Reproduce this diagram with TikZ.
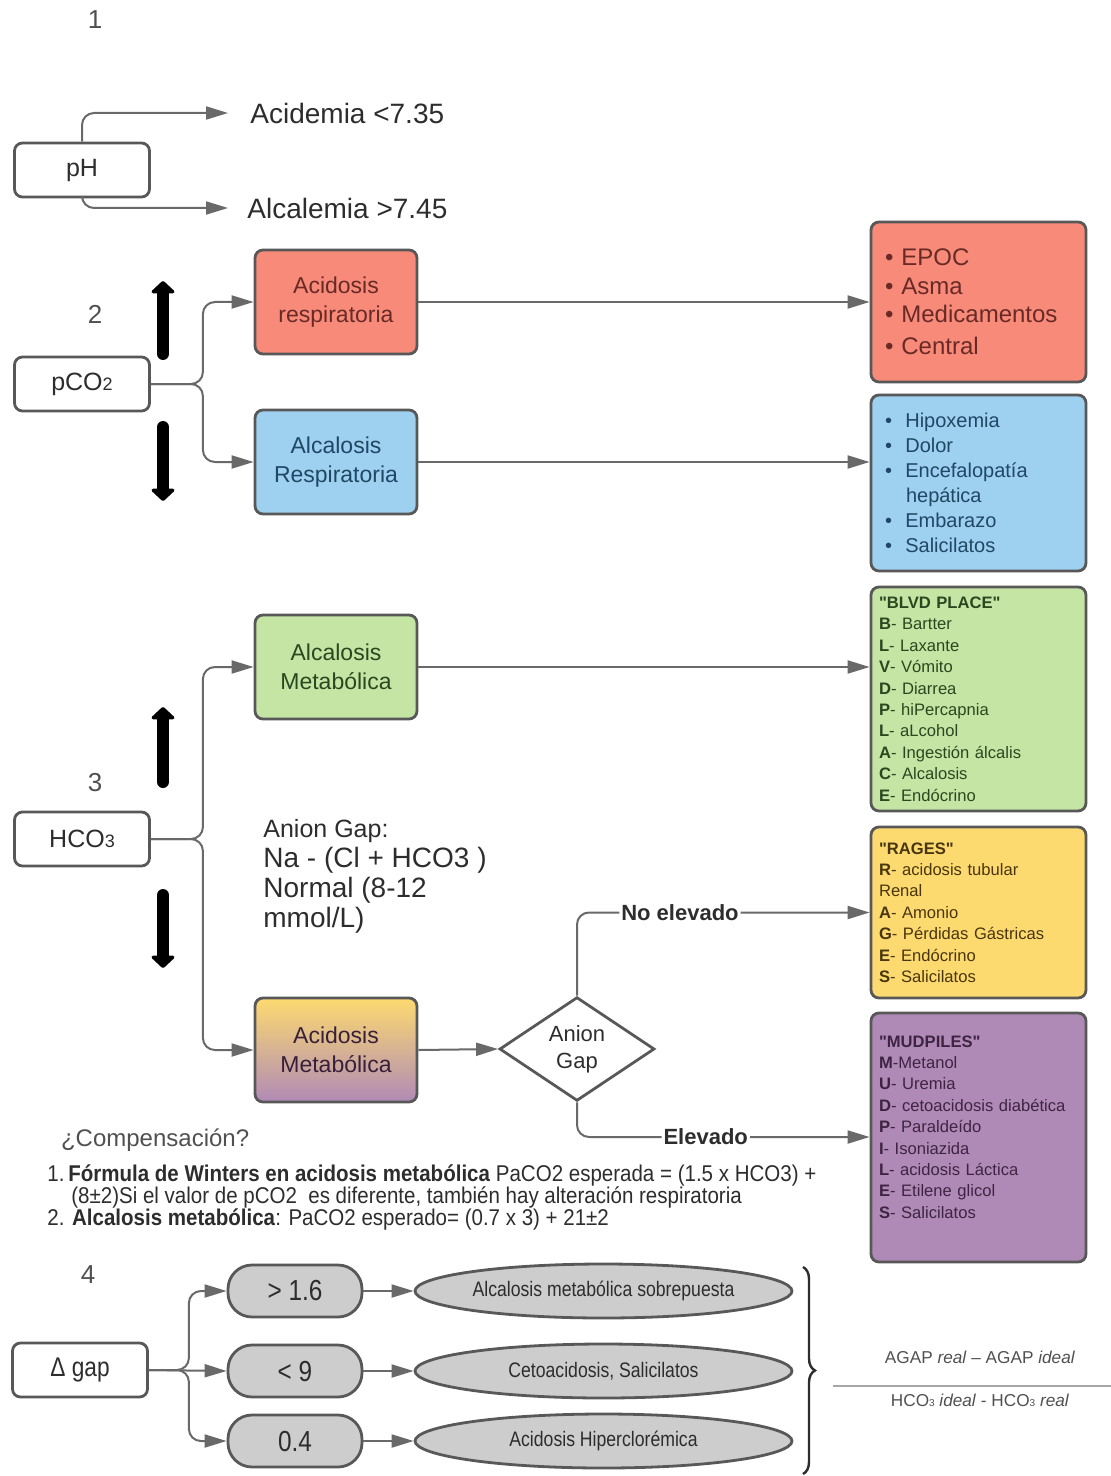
\documentclass[tikz,border=0pt]{standalone}
\usepackage{fontspec}
\setmainfont{Liberation Sans}[Ligatures=TeXOff]
\newfontfamily\narrowfont[FakeStretch=0.84]{Liberation Sans}
\newfontfamily\notefont[FakeStretch=0.9]{Liberation Sans}
\usetikzlibrary{arrows.meta, shapes.geometric, positioning, decorations.pathreplacing}

\definecolor{boxline}{RGB}{88,88,88}
\definecolor{linkgray}{RGB}{105,105,105}
\definecolor{txtdark}{RGB}{45,45,45}
\definecolor{txtgray}{RGB}{80,80,80}
\definecolor{resred}{RGB}{248,138,122}
\definecolor{resblue}{RGB}{158,208,240}
\definecolor{metgreen}{RGB}{197,229,165}
\definecolor{metyellow}{RGB}{253,218,112}
\definecolor{metpurple}{RGB}{176,138,182}
\definecolor{pillgray}{RGB}{205,205,205}
\definecolor{redtxt}{RGB}{105,42,38}
\definecolor{bluetxt}{RGB}{32,72,100}
\definecolor{greentxt}{RGB}{42,72,32}
\definecolor{yellowtxt}{RGB}{72,54,14}
\definecolor{purpletxt}{RGB}{62,36,66}

\newcommand{\fsz}[2]{\fontsize{#1}{#2}\selectfont}

\begin{document}
\begin{tikzpicture}[x=0.5pt, y=-0.5pt,
  param/.style={draw=boxline, line width=1.4pt, rounded corners=4pt, fill=white, minimum width=67.5pt, minimum height=27pt, text=txtdark, font=\fsz{12.5}{15}},
  kind/.style={draw=boxline, line width=1.4pt, rounded corners=4pt, minimum width=81pt, minimum height=52pt, align=center, font=\fsz{11.5}{14.5}},
  causes/.style={draw=boxline, line width=1.4pt, rounded corners=4pt, align=left, inner xsep=4pt, text width=99.5pt, font=\fsz{8.3}{10.7}},
  bullets/.style={causes, inner xsep=7pt, text width=93.5pt},
  link/.style={draw=linkgray, line width=1pt, rounded corners=6pt, -{Triangle[length=11pt,width=6.5pt]}},
  updown/.style={line width=6pt, black, line cap=round, -{Triangle[length=6.5pt,width=13.5pt,round]}},
  number/.style={text=txtgray, font=\fsz{13}{15}},
  reading/.style={anchor=west, text=txtdark, font=\fsz{14}{16}},
  pill/.style={draw=boxline, line width=1.4pt, rounded corners=12pt, fill=pillgray, minimum width=67pt, minimum height=26pt, text=txtdark, font=\narrowfont\fsz{14.5}{16}},
  oval/.style={ellipse, draw=boxline, line width=1.4pt, fill=pillgray, inner sep=0pt, minimum width=188.5pt, minimum height=27pt, text=txtdark, font=\narrowfont\fsz{10.5}{12}}
  ]
  \useasboundingbox (0,0) rectangle (1111,1476);

  % 1 pH
  \node[number] (n1) at (95,20) {1};
  \node[param] (ph) at (82,170) {pH};
  \node[reading, inner xsep=11pt] (acidemia) at (228,113) {Acidemia <7.35};
  \node[reading, inner xsep=9.5pt] (alcalemia) at (228,208) {Alcalemia >7.45};
  \draw[link] (ph.north) |- (acidemia.west);
  \draw[link] (ph.south) |- (alcalemia.west);

  % 2 pCO2
  \node[number] (n2) at (95,314) {2};
  \node[param] (pco2) at (82,384) {pCO{\small 2}};
  \draw[updown] (163,354) -- (163,281);
  \draw[updown] (163,427) -- (163,501);
  \node[kind, fill=resred, text=redtxt] (acres) at (336,302) {Acidosis\\respiratoria};
  \node[kind, fill=resblue, text=bluetxt] (alres) at (336,462) {Alcalosis\\Respiratoria};
  \node[bullets, fill=resred, text=redtxt, minimum height=80pt, font=\fsz{12}{14.2}] (redlist) at (978.5,302)
    {\textbullet\ EPOC\\ \textbullet\ Asma\\ \textbullet\ Medicamentos\\[2pt] \textbullet\ Central};
  \node[bullets, fill=resblue, text=bluetxt, minimum height=88pt, font=\fsz{10}{12.5}] (bluelist) at (978.5,483)
    {\textbullet\ \ Hipoxemia\\ \textbullet\ \ Dolor\\ \textbullet\ \ Encefalopatía\\ \hspace*{1.05em}hepática\\ \textbullet\ \ Embarazo\\ \textbullet\ \ Salicilatos};
  \draw[link] (pco2.east) -- ++(52,0) |- (acres.west);
  \draw[link] (pco2.east) -- ++(52,0) |- (alres.west);
  \draw[link] (acres.east) -- (acres.east -| redlist.west);
  \draw[link] (alres.east) -- (alres.east -| bluelist.west);

  % 3 HCO3
  \node[number] (n3) at (95,783) {3};
  \node[param] (hco3) at (82,839) {HCO{\small 3}};
  \draw[updown] (163,782) -- (163,707);
  \draw[updown] (163,895) -- (163,968);
  \node[kind, fill=metgreen, text=greentxt] (almet) at (336,667) {Alcalosis\\Metabólica};
  \node[kind, top color=metyellow, bottom color=metpurple, text=purpletxt!90!black] (acmet) at (336,1050) {Acidosis\\Metabólica};
  \node[anchor=north west, align=left, inner sep=0pt, text=txtdark, font=\fsz{14}{15}] (agap) at (263,819)
    {{\fsz{12.5}{15}Anion Gap:}\\ Na - (Cl + HCO3 )\\ Normal (8-12\\ mmol/L)};
  \node[diamond, draw=boxline, line width=1.4pt, fill=white, minimum width=77.5pt, minimum height=49pt, inner sep=0pt, align=center, text=txtdark, font=\fsz{11}{13.5}] (gap) at (577,1049) {Anion\\Gap};
  \node[causes, fill=metgreen, text=greentxt, minimum height=112pt] (greenlist) at (978.5,699)
    {\textbf{"BLVD PLACE"}\\ \textbf{B}- Bartter\\ \textbf{L}- Laxante\\ \textbf{V}- Vómito\\ \textbf{D}- Diarrea\\ \textbf{P}- hiPercapnia\\ \textbf{L}- aLcohol\\ \textbf{A}- Ingestión álcalis\\ \textbf{C}- Alcalosis\\ \textbf{E}- Endócrino};
  \node[causes, fill=metyellow, text=yellowtxt, minimum height=85.5pt] (yellowlist) at (978.5,912.5)
    {\textbf{"RAGES"}\\ \textbf{R}- acidosis tubular\\ Renal\\ \textbf{A}- Amonio\\ \textbf{G}- Pérdidas Gástricas\\ \textbf{E}- Endócrino\\ \textbf{S}- Salicilatos};
  \node[causes, fill=metpurple, text=purpletxt, minimum height=124.5pt] (purplelist) at (978.5,1137.5)
    {\textbf{"MUDPILES"}\\ \textbf{M}-Metanol\\ \textbf{U}- Uremia\\ \mbox{\textbf{D}- cetoacidosis diabética}\\ \textbf{P}- Paraldeído\\ \textbf{I}- Isoniazida\\ \textbf{L}- acidosis Láctica\\ \textbf{E}- Etilene glicol\\ \textbf{S}- Salicilatos\\ \mbox{}};
  \draw[link] (hco3.east) -- ++(52,0) |- (almet.west);
  \draw[link] (hco3.east) -- ++(52,0) |- (acmet.west);
  \draw[link] (almet.east) -- (almet.east -| greenlist.west);
  \draw[link] (acmet.east) -- (gap.west);
  \draw[link] (gap.north) |- node[pos=0.676, fill=white, inner sep=1pt, text=txtdark, font=\bfseries\fsz{11}{13}] (noelev) {No elevado} (yellowlist.west);
  \draw[link] (gap.south) |- node[pos=0.72, fill=white, inner sep=1pt, text=txtdark, font=\bfseries\fsz{11}{13}] (elev) {Elevado} (purplelist.west |- 0,1137);

  % compensacion
  \node[anchor=west, text=txtgray, font=\fsz{12}{14}] (comp) at (54,1140) {¿Compensación?};
  \node[anchor=north west, align=left, inner sep=0pt, text=txtdark, font=\notefont\fsz{11.4}{11.2}] (winters) at (47,1164)
    {1.\,\textbf{Fórmula de Winters en acidosis metabólica} PaCO2 esperada = (1.5 x HCO3) +\\
     \hspace*{1.05em}(8±2)Si el valor de pCO2\ \ es diferente, también hay alteración respiratoria\\
     2. \textbf{Alcalosis metabólica}: PaCO2 esperado= (0.7 x 3) + 21±2};

  % 4 delta gap
  \node[number] (n4) at (88,1275) {4};
  \node[param, font=\narrowfont\fsz{13.5}{15}] (dgap) at (80,1370) {Δ gap};
  \node[pill] (p1) at (295,1291) {> 1.6};
  \node[pill] (p2) at (295,1371) {< 9};
  \node[pill] (p3) at (295,1441) {0.4};
  \node[oval] (o1) at (603.5,1291) {Alcalosis metabólica sobrepuesta};
  \node[oval] (o2) at (603.5,1371) {Cetoacidosis, Salicilatos};
  \node[oval] (o3) at (603.5,1441) {Acidosis Hiperclorémica};
  \draw[link] (dgap.east) -- ++(40,0) |- (p1.west);
  \draw[link] (dgap.east) -- (p2.west);
  \draw[link] (dgap.east) -- ++(40,0) |- (p3.west);
  \draw[link] (p1) -- (o1);
  \draw[link] (p2) -- (o2);
  \draw[link] (p3) -- (o3);

  \coordinate (bracetop) at (803,1267);
  \coordinate (bracebot) at (803,1474);
  \draw[decorate, decoration={brace, amplitude=6pt}, draw=txtdark, line width=1.2pt] (bracetop) -- (bracebot);
  \node[text=txtgray, font=\fsz{8.6}{10}] (agapnum) at (980,1357) {AGAP \textit{real} – AGAP \textit{ideal}};
  \node[text=txtgray, font=\fsz{8.6}{10}] (hcoden) at (980,1400) {HCO{\tiny 3} \textit{ideal} - HCO{\tiny 3} \textit{real}};
  \draw[draw=black!35, line width=1pt] (833,1386) -- (1111,1386);
\end{tikzpicture}
\end{document}
